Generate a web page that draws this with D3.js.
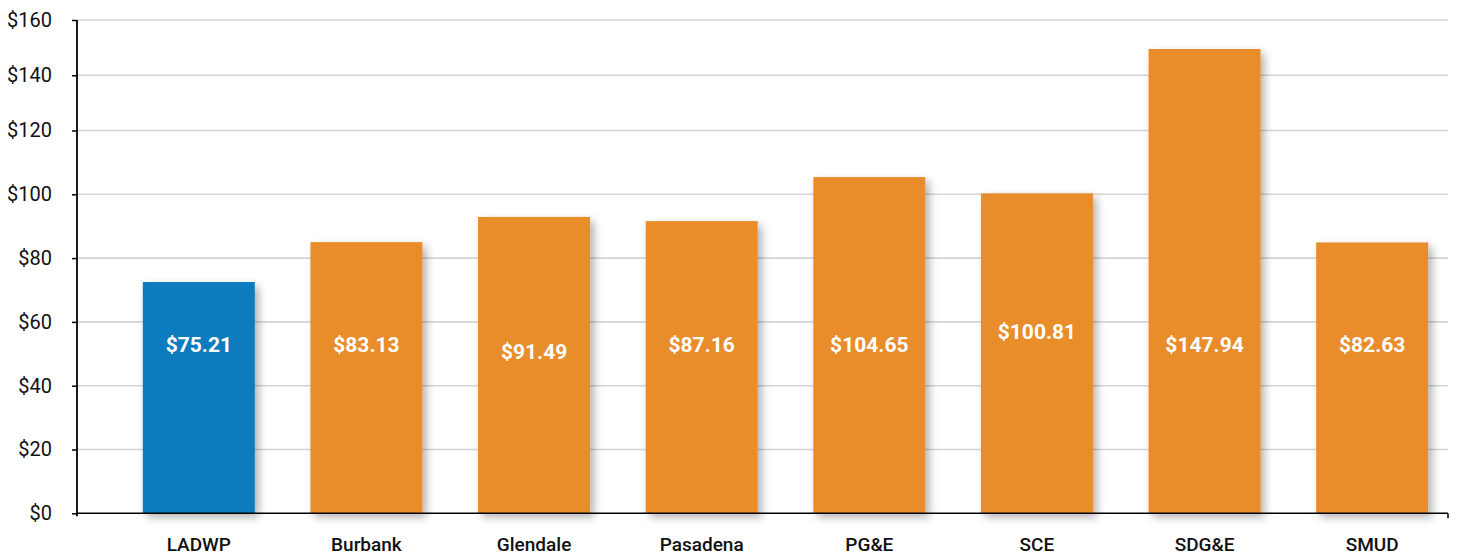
<!DOCTYPE html>
<html>
<head>
<meta charset="utf-8">
<script src="https://cdn.jsdelivr.net/npm/d3@7"></script>
<style>
  body { margin: 0; background: #fff; }
  svg { display: block; }
  .ytick text { font-family: Roboto, sans-serif; font-size: 20px; fill: #111; }
  .cat { font-family: Roboto, sans-serif; font-size: 19px; font-weight: 500; fill: #111; }
  .val { font-family: Roboto, sans-serif; font-size: 21px; font-weight: 700; fill: #fff; }
</style>
</head>
<body>
<div id="chart"></div>
<script>
// utilities
var categories = ["LADWP", "Burbank", "Glendale", "Pasadena", "PG&E", "SCE", "SDG&E", "SMUD"];
var barValues  = [72.5, 85.0, 92.9, 91.6, 105.4, 100.3, 149.5, 84.9];   // heights as drawn
var labels     = ["$75.21", "$83.13", "$91.49", "$87.16", "$104.65", "$100.81", "$147.94", "$82.63"];
var colors     = ["#0f7bbf", "#e98c2b", "#e98c2b", "#e98c2b", "#e98c2b", "#e98c2b", "#e98c2b", "#e98c2b"];
var yTicks     = [0, 20, 40, 60, 80, 100, 120, 140, 160];

var W = 1457, H = 557;
var mLeft = 77, mRight = 1448, mTop = 20, mBottom = 513.3;

var svg = d3.select("#chart").append("svg")
    .attr("width", W)
    .attr("height", H);

var defs = svg.append("defs");
var f = defs.append("filter").attr("id", "shadow")
    .attr("x", "-20%").attr("y", "-20%").attr("width", "150%").attr("height", "150%");
f.append("feDropShadow")
    .attr("dx", 4).attr("dy", 4).attr("stdDeviation", 4)
    .attr("flood-color", "#000").attr("flood-opacity", 0.3);

// the source axis is not uniform above $120
var y = d3.scaleLinear().domain([0, 120, 160]).range([mBottom, 130.5, mTop]);
var x = d3.scaleBand().domain(categories).range([115, 1456]).paddingInner(0.332).paddingOuter(0.166);

// gridlines
svg.append("g").selectAll("line").data(yTicks.filter(d => d > 0)).enter().append("line")
    .attr("x1", mLeft).attr("x2", mRight)
    .attr("y1", d => y(d)).attr("y2", d => y(d))
    .attr("stroke", "#d4d4d4").attr("stroke-width", 1.6);

// bars
svg.append("g").selectAll("rect").data(categories).enter().append("rect")
    .attr("x", d => x(d))
    .attr("width", x.bandwidth())
    .attr("y", (d, i) => y(barValues[i]))
    .attr("height", (d, i) => y(0) - y(barValues[i]))
    .attr("fill", (d, i) => colors[i])
    .attr("filter", "url(#shadow)");

// value labels
var labelY = [345, 345, 352, 345, 345, 332, 345, 345];
svg.append("g").selectAll("text").data(categories).enter().append("text")
    .attr("class", "val")
    .attr("x", d => x(d) + x.bandwidth() / 2)
    .attr("y", (d, i) => labelY[i])
    .attr("dy", "0.35em")
    .attr("text-anchor", "middle")
    .text((d, i) => labels[i]);

// y axis
var yAxis = svg.append("g")
    .attr("class", "ytick")
    .attr("transform", "translate(" + mLeft + ",0)")
    .call(d3.axisLeft(y).tickValues(yTicks).tickSize(5).tickPadding(20).tickFormat(d => "$" + d));
yAxis.select(".domain").remove();
yAxis.selectAll(".tick line").attr("stroke", "#000").attr("stroke-width", 1.5);
svg.append("line")
    .attr("x1", mLeft).attr("x2", mLeft).attr("y1", mTop).attr("y2", mBottom + 3)
    .attr("stroke", "#000").attr("stroke-width", 1.8);

// x baseline
svg.append("line")
    .attr("x1", mLeft).attr("x2", mRight).attr("y1", mBottom).attr("y2", mBottom)
    .attr("stroke", "#000").attr("stroke-width", 1.6);
svg.append("line")
    .attr("x1", mRight).attr("x2", mRight).attr("y1", mBottom).attr("y2", mBottom + 5)
    .attr("stroke", "#000").attr("stroke-width", 1.5);

// categories
svg.append("g").selectAll("text").data(categories).enter().append("text")
    .attr("class", "cat")
    .attr("x", d => x(d) + x.bandwidth() / 2)
    .attr("y", 551)
    .attr("text-anchor", "middle")
    .text(d => d);
</script>
</body>
</html>
